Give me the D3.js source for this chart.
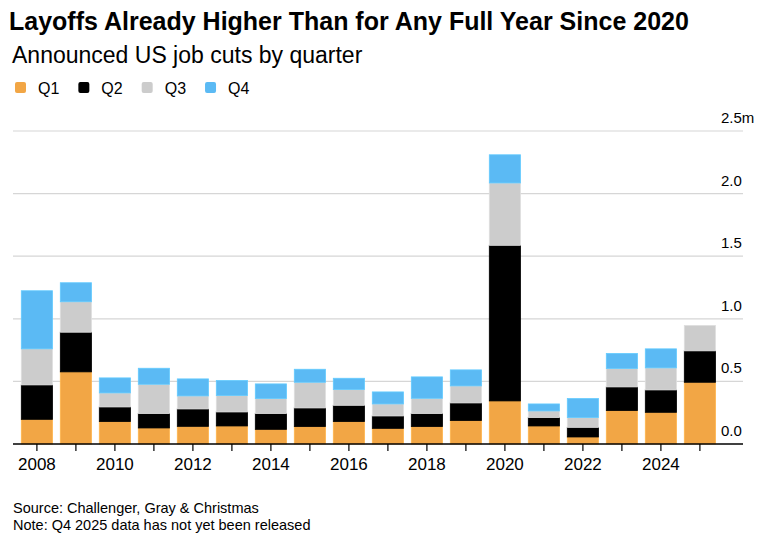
<!DOCTYPE html>
<html>
<head>
<meta charset="utf-8">
<script src="https://cdn.jsdelivr.net/npm/d3@7"></script>
<style>
  body { margin: 0; background: #fff; }
  text { font-family: "Liberation Sans", Arial, sans-serif; fill: #000; }
</style>
</head>
<body>
<svg id="chart" width="769" height="542"></svg>
<script>
// announced US job cuts, millions, by quarter
var years = [2008, 2009, 2010, 2011, 2012, 2013, 2014, 2015, 2016, 2017, 2018, 2019, 2020, 2021, 2022, 2023, 2024, 2025];
var q1 = [0.197, 0.576, 0.179, 0.128, 0.141, 0.144, 0.117, 0.139, 0.179, 0.125, 0.139, 0.187, 0.344, 0.144, 0.056, 0.267, 0.253, 0.493];
var q2 = [0.275, 0.317, 0.117, 0.115, 0.139, 0.112, 0.126, 0.149, 0.130, 0.099, 0.104, 0.141, 1.243, 0.067, 0.077, 0.189, 0.179, 0.251];
var q3 = [0.288, 0.243, 0.112, 0.234, 0.104, 0.131, 0.120, 0.205, 0.126, 0.096, 0.122, 0.136, 0.498, 0.053, 0.078, 0.147, 0.176, 0.203];
var q4 = [0.464, 0.152, 0.120, 0.128, 0.136, 0.120, 0.117, 0.104, 0.090, 0.096, 0.171, 0.128, 0.225, 0.056, 0.152, 0.120, 0.152, 0];
var quarters = ["Q1", "Q2", "Q3", "Q4"];
var colors = ["#f2a645", "#000000", "#cccccc", "#5bbaf4"];
var yTicks = [0, 0.5, 1.0, 1.5, 2.0, 2.5];

var rows = years.map(function(yr, i) {
  return { year: yr, Q1: q1[i], Q2: q2[i], Q3: q3[i], Q4: q4[i] };
});

var svg = d3.select("#chart");
svg.append("rect").attr("width", 769).attr("height", 542).attr("fill", "#fff");

var gridLeft = 13, gridRight = 743;

var x = d3.scaleBand().domain(years).range([17.4, 719.4]).paddingInner(0.2).paddingOuter(0.1);
var y = d3.scaleLinear().domain([0, 2.5]).range([444, 131]);
var color = d3.scaleOrdinal().domain(quarters).range(colors);

// title block
svg.append("text").attr("x", 9).attr("y", 30).attr("font-size", "25px").attr("font-weight", "bold")
  .text("Layoffs Already Higher Than for Any Full Year Since 2020");
svg.append("text").attr("x", 12).attr("y", 63).attr("font-size", "23px")
  .text("Announced US job cuts by quarter");

// legend
var lx = 15;
quarters.forEach(function(q) {
  svg.append("rect").attr("x", lx).attr("y", 82).attr("width", 11).attr("height", 11)
    .attr("rx", 2).attr("fill", color(q));
  var t = svg.append("text").attr("x", lx + 23).attr("y", 93.5).attr("font-size", "16px").text(q);
  lx = lx + 23 + t.node().getComputedTextLength() + 19;
});

// gridlines
svg.append("g").selectAll("line").data(yTicks.filter(function(d) { return d > 0; })).join("line")
  .attr("x1", gridLeft).attr("x2", gridRight)
  .attr("y1", function(d) { return y(d); }).attr("y2", function(d) { return y(d); })
  .attr("stroke", "#d6d6d6").attr("stroke-width", 1.2);

// y labels
svg.append("g").selectAll("text").data(yTicks).join("text")
  .attr("x", 721).attr("y", function(d) { return y(d) - 8; })
  .attr("font-size", "15px")
  .text(function(d) { return d3.format(".1f")(d) + (d === 2.5 ? "m" : ""); });

// stacked bars
var series = d3.stack().keys(quarters)(rows);
svg.append("g").selectAll("g").data(series).join("g")
  .attr("fill", function(s) { return color(s.key); })
  .attr("stroke", function(s) { return s.key === "Q2" ? "#000" : d3.color(color(s.key)).brighter(0.25); })
  .attr("stroke-width", 0.8)
  .selectAll("rect").data(function(s) { return s.filter(function(d) { return d[1] - d[0] > 0; }); }).join("rect")
  .attr("x", function(d) { return x(d.data.year); })
  .attr("width", x.bandwidth())
  .attr("y", function(d) { return y(d[1]); })
  .attr("height", function(d) { return y(d[0]) - y(d[1]); });

// x axis
var xAxis = svg.append("g").attr("transform", "translate(0," + y(0) + ")")
  .call(d3.axisBottom(x).tickSize(7).tickSizeOuter(0)
    .tickFormat(function(d) { return d % 2 === 0 ? d : ""; }));
xAxis.select(".domain").remove();
xAxis.selectAll(".tick line").attr("stroke", "#000").attr("stroke-width", 1.2);
xAxis.selectAll(".tick text").attr("y", 26).attr("dy", 0)
  .attr("font-size", "17px").attr("font-family", "Liberation Sans, Arial, sans-serif").attr("fill", "#000");

svg.append("line").attr("x1", gridLeft).attr("x2", gridRight)
  .attr("y1", y(0)).attr("y2", y(0)).attr("stroke", "#000").attr("stroke-width", 1.4);

// footnotes
svg.append("text").attr("x", 13).attr("y", 513).attr("font-size", "14.5px")
  .text("Source: Challenger, Gray & Christmas");
svg.append("text").attr("x", 13).attr("y", 529.5).attr("font-size", "14.5px")
  .text("Note: Q4 2025 data has not yet been released");
</script>
</body>
</html>
